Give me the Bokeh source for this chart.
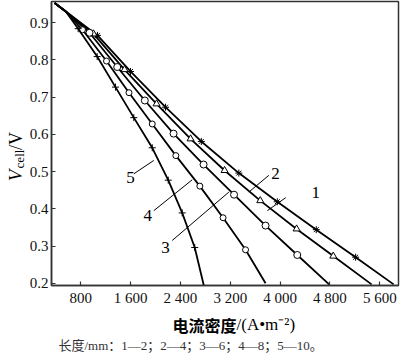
from math import pi
from bokeh.plotting import figure
from bokeh.layouts import row, column
from bokeh.models import FixedTicker, Range1d
from bokeh.core.properties import value
from bokeh.embed import file_html
from bokeh.resources import INLINE

# ---------------- data ----------------
start_x = [380, 560]
start_y = [0.953, 0.930]

c1_x = [1068, 1598, 2160, 2735, 3337, 3954, 4580, 5212]
c1_y = [0.866, 0.769, 0.673, 0.581, 0.496, 0.419, 0.344, 0.270]
c1_end = [5822, 0.197]

c2_x = [1004, 1502, 2016, 2562, 3108, 3681, 4264, 4853]
c2_y = [0.870, 0.774, 0.682, 0.588, 0.503, 0.422, 0.346, 0.273]
c2_end = [5468, 0.197]

c3_x = [940, 1385, 1828, 2289, 2771, 3260, 3766, 4275]
c3_y = [0.873, 0.781, 0.691, 0.602, 0.519, 0.438, 0.355, 0.276]
c3_end = [4786, 0.197]

c4_x = [827, 1213, 1574, 1947, 2326, 2711, 3084, 3445]
c4_y = [0.881, 0.797, 0.712, 0.628, 0.543, 0.461, 0.376, 0.290]
c4_end = [3766, 0.200]

c5_x = [758, 1063, 1357, 1651, 1947, 2204, 2428, 2629]
c5_y = [0.884, 0.809, 0.727, 0.645, 0.564, 0.477, 0.389, 0.296]
c5_end = [2775, 0.194]

curve_names = ["1", "2", "3", "4", "5"]
label_x = [4570, 3926, 2160, 1876, 1598]
label_y = [0.444, 0.496, 0.297, 0.382, 0.483]
leader_x0 = [4090, 3819, 2268, 1972, 1651]
leader_y0 = [0.430, 0.490, 0.315, 0.395, 0.494]
leader_x1 = [3795, 3498, 3177, 2589, 1972]
leader_y1 = [0.395, 0.445, 0.445, 0.478, 0.530]

x_ticks = [800, 1600, 2400, 3200, 4000, 4800, 5600]
x_tick_labels = ["800", "1 600", "2 400", "3 200", "4 000", "4 800", "5 600"]
y_ticks = [0.2, 0.3, 0.4, 0.5, 0.6, 0.7, 0.8, 0.9]

y_title_parts = ["V", "cell", "/V"]
x_title_cn = "电流密度"
x_title_unit = "/(A•m⁻²)"
caption = "长度/mm：1—2；2—4；3—6；4—8；5—10。"

SERIF = "Liberation Serif"
CJK = "Noto Sans CJK SC"


def text_panel(w, h):
    f = figure(width=w, height=h, output_backend="svg", toolbar_location=None,
               x_range=Range1d(0, w), y_range=Range1d(0, h),
               x_axis_type=None, y_axis_type=None, min_border=0)
    f.outline_line_color = None
    f.xgrid.visible = False
    f.ygrid.visible = False
    return f


# ---------------- main figure ----------------
YW = 26
X0, X1 = 330, 5900
Y0, Y1 = 0.194, 0.957
p = figure(width=400 - YW, height=308, output_backend="svg", toolbar_location=None,
           x_range=Range1d(X0, X1), y_range=Range1d(Y0, Y1),
           min_border_left=51 - YW, min_border_right=2, min_border_top=1,
           min_border_bottom=23)
p.xgrid.visible = False
p.ygrid.visible = False
p.outline_line_color = "#333333"
p.outline_line_width = 1.5

for ax in (p.xaxis[0], p.yaxis[0]):
    ax.axis_line_color = "#333333"
    ax.axis_line_width = 1.5
    ax.major_tick_in = 4
    ax.major_tick_out = 0
    ax.major_tick_line_color = "#333333"
    ax.major_tick_line_width = 1.2
    ax.minor_tick_line_color = None
    ax.major_label_text_font = SERIF
    ax.major_label_text_font_size = "15px"
    ax.major_label_text_color = "#111111"
    ax.major_label_standoff = 4
p.yaxis[0].major_label_standoff = 3

p.xaxis[0].ticker = FixedTicker(ticks=x_ticks)
p.xaxis[0].major_label_overrides = {t: l for t, l in zip(x_ticks, x_tick_labels)}
p.yaxis[0].ticker = FixedTicker(ticks=y_ticks)

curves = [
    (c1_x, c1_y, c1_end, "asterisk", 7),
    (c2_x, c2_y, c2_end, "triangle", 7),
    (c3_x, c3_y, c3_end, "circle", 7),
    (c4_x, c4_y, c4_end, "circle", 6),
    (c5_x, c5_y, c5_end, "cross", 7),
]
for cx, cy, cend, mk, sz in curves:
    lx = start_x + cx + [cend[0]]
    ly = start_y + cy + [cend[1]]
    p.line(lx, ly, line_color="black", line_width=1.8)
    p.scatter(cx, cy, marker=mk, size=sz, line_color="black", fill_color="white",
              line_width=1)

p.segment(leader_x0, leader_y0, leader_x1, leader_y1, line_color="black", line_width=1)
p.text(label_x, label_y, text=curve_names, text_font=value(SERIF),
       text_font_size="17px", text_align="center", text_baseline="middle",
       text_color="black")

# ---------------- y title panel (rotated V_cell/V) ----------------
ylab = text_panel(YW, 308)
ylab.text([15], [113], text=[y_title_parts[0]], angle=pi / 2, text_font=value(SERIF),
          text_font_style="italic", text_font_size="19px", text_align="left",
          text_baseline="alphabetic", text_color="black")
ylab.text([19], [127], text=[y_title_parts[1]], angle=pi / 2, text_font=value(SERIF),
          text_font_size="13px", text_align="left",
          text_baseline="alphabetic", text_color="black")
ylab.text([15], [147], text=[y_title_parts[2]], angle=pi / 2, text_font=value(SERIF),
          text_font_size="18px", text_align="left",
          text_baseline="alphabetic", text_color="black")

# ---------------- bottom panel (x title + caption) ----------------
bot = text_panel(400, 51)
bot.text([236], [35], text=[x_title_cn], text_font=value(CJK), text_font_style="bold",
         text_font_size="16px", text_align="right", text_baseline="middle",
         text_color="black")
bot.text([236], [35], text=[x_title_unit], text_font=value(SERIF),
         text_font_size="17px", text_align="left", text_baseline="middle",
         text_color="black")
bot.text([58], [14], text=[caption], text_font=value("'Liberation Serif', 'Noto Sans CJK SC'"),
         text_font_size="13px", text_align="left", text_baseline="middle",
         text_color="#333333")

layout = column(row(ylab, p), bot)
open("out.html", "w").write(file_html(layout, INLINE))
